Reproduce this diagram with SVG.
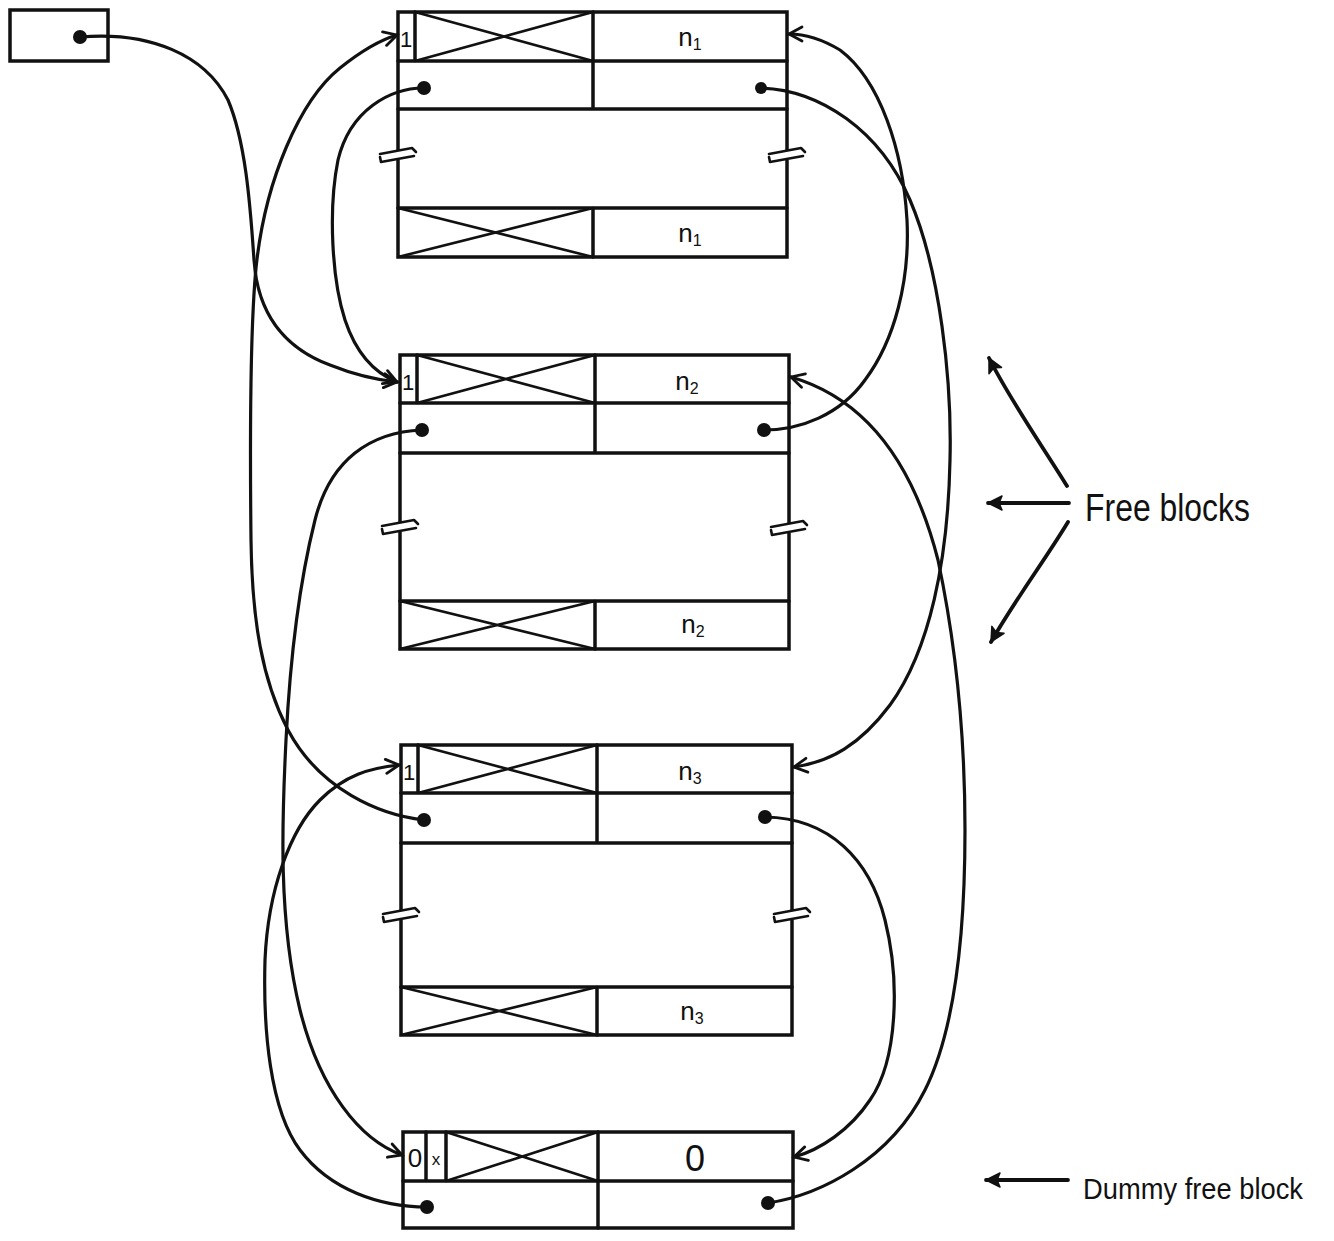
<svg xmlns="http://www.w3.org/2000/svg" width="1334" height="1241" viewBox="0 0 1334 1241">
<style>
.bx{fill:#fff;stroke:#111;stroke-width:3.5}
.ln{fill:none;stroke:#111;stroke-width:3.5;stroke-linecap:round}
.thin{fill:none;stroke:#111;stroke-width:2.6;stroke-linecap:round}
.dot{fill:#111}
.cn{fill:none;stroke:#111;stroke-width:3.2;stroke-linecap:round}
.ann{fill:none;stroke:#111;stroke-width:3.8;stroke-linecap:round}
.t{font-family:"Liberation Sans",Arial,sans-serif;fill:#111}
.brk path{fill:none;stroke:#111;stroke-width:2.6;stroke-linecap:round;stroke-linejoin:round}
</style>
<defs>
<marker id="open" markerUnits="userSpaceOnUse" markerWidth="20" markerHeight="20" refX="14" refY="7" orient="auto" overflow="visible">
<path d="M1,0 L14,7 L1,14" fill="none" stroke="#111" stroke-width="2.8" stroke-linecap="round"/>
</marker>
<marker id="fill" markerUnits="userSpaceOnUse" markerWidth="20" markerHeight="20" refX="14" refY="7" orient="auto" overflow="visible">
<path d="M0,0 L14,7 L0,14 L3,7 Z" fill="#111" stroke="#111" stroke-width="1.5" stroke-linejoin="round"/>
</marker>
<g id="brkmark" class="brk">
<rect x="-3" y="-5" width="6" height="10" fill="#fff" stroke="none"/>
<path d="M-18,-1 L14,-7 L18,-3"/>
<path d="M-18,2 L-17,7 L16,1"/>
</g>
</defs>
<rect x="0" y="0" width="1334" height="1241" fill="#fff"/>

<g id="head">
<rect class="bx" x="10" y="10" width="98" height="51"/>
<circle class="dot" cx="80" cy="37" r="7"/>
</g>

<g id="block1">
<rect class="bx" x="398" y="12" width="389" height="245"/>
<path class="ln" d="M398,61 H787 M398,109 H787 M398,208 H787 M593,12 V109 M593,208 V257 M415,12 V61"/>
<path class="thin" d="M415,12 L593,61 M415,61 L593,12 M398,208 L593,257 M398,257 L593,208"/>
<text class="t" x="406" y="47" font-size="22" text-anchor="middle">1</text>
<text class="t" x="690" y="46" font-size="26" text-anchor="middle">n<tspan font-size="16" dy="4">1</tspan></text>
<text class="t" x="690" y="242" font-size="26" text-anchor="middle">n<tspan font-size="16" dy="4">1</tspan></text>
<circle class="dot" cx="424" cy="88" r="7"/>
<circle class="dot" cx="761" cy="88" r="6"/>
<use href="#brkmark" x="398" y="155"/>
<use href="#brkmark" x="787" y="155"/>
</g>

<g id="block2">
<rect class="bx" x="400" y="355" width="389" height="294"/>
<path class="ln" d="M400,403 H789 M400,453 H789 M400,601 H789 M595,355 V453 M595,601 V649 M417,355 V403"/>
<path class="thin" d="M417,355 L595,403 M417,403 L595,355 M400,601 L595,649 M400,649 L595,601"/>
<text class="t" x="408" y="390" font-size="22" text-anchor="middle">1</text>
<text class="t" x="687" y="390" font-size="26" text-anchor="middle">n<tspan font-size="16" dy="4">2</tspan></text>
<text class="t" x="693" y="633" font-size="26" text-anchor="middle">n<tspan font-size="16" dy="4">2</tspan></text>
<circle class="dot" cx="422" cy="430" r="7"/>
<circle class="dot" cx="764" cy="430" r="7"/>
<use href="#brkmark" x="400" y="527"/>
<use href="#brkmark" x="789" y="528"/>
</g>

<g id="block3">
<rect class="bx" x="401" y="745" width="391" height="290"/>
<path class="ln" d="M401,793 H792 M401,843 H792 M401,987 H792 M597,745 V843 M597,987 V1035 M418,745 V793"/>
<path class="thin" d="M418,745 L597,793 M418,793 L597,745 M401,987 L597,1035 M401,1035 L597,987"/>
<text class="t" x="409" y="780" font-size="22" text-anchor="middle">1</text>
<text class="t" x="690" y="780" font-size="26" text-anchor="middle">n<tspan font-size="16" dy="4">3</tspan></text>
<text class="t" x="692" y="1020" font-size="26" text-anchor="middle">n<tspan font-size="16" dy="4">3</tspan></text>
<circle class="dot" cx="424" cy="820" r="7"/>
<circle class="dot" cx="765" cy="817" r="7"/>
<use href="#brkmark" x="401" y="915"/>
<use href="#brkmark" x="792" y="915"/>
</g>

<g id="dummy">
<rect class="bx" x="403" y="1132" width="390" height="96"/>
<path class="ln" d="M403,1181 H793 M598,1132 V1228 M426,1132 V1181 M446,1132 V1181"/>
<path class="thin" d="M446,1132 L598,1181 M446,1181 L598,1132"/>
<text class="t" x="415" y="1167" font-size="26" text-anchor="middle">0</text>
<text class="t" x="436" y="1165" font-size="17" text-anchor="middle">x</text>
<text class="t" x="695" y="1171" font-size="36" text-anchor="middle">0</text>
<circle class="dot" cx="427" cy="1207" r="7"/>
<circle class="dot" cx="768" cy="1203" r="7"/>
</g>

<g id="connectors">
<path class="cn" stroke-width="4.2" marker-end="url(#open)" d="M80,37 C150,31 205,55 228,100 C245,140 250,200 254,260 C258,320 290,350 330,365 C355,375 378,380 397,382"/>
<path class="cn" marker-end="url(#open)" d="M424,88 C390,88 350,110 338,160 C328,210 332,280 345,320 C355,350 372,372 397,382"/>
<path class="cn" marker-end="url(#open)" d="M424,820 C380,815 320,790 288,730 C262,680 252,620 251,540 C250,450 250,330 256,268 C265,180 300,100 340,68 C360,52 380,40 397,35"/>
<path class="cn" marker-end="url(#open)" d="M422,430 C370,432 330,460 315,520 C300,580 290,660 286,740 C282,820 278,920 300,1010 C320,1090 360,1140 402,1155"/>
<path class="cn" marker-end="url(#open)" d="M427,1207 C380,1207 330,1190 300,1150 C270,1110 263,1030 265,960 C268,890 290,830 320,800 C345,775 370,768 399,765"/>
<path class="cn" marker-end="url(#open)" d="M764,430 C800,430 840,415 865,380 C895,340 910,280 907,220 C903,150 880,80 840,50 C820,38 805,34 789,34"/>
<path class="cn" marker-end="url(#open)" d="M761,88 C820,90 880,130 910,200 C940,270 952,380 950,460 C948,560 930,650 890,705 C860,745 830,762 794,767"/>
<path class="cn" marker-end="url(#open)" d="M768,1203 C820,1195 890,1160 925,1090 C955,1030 965,930 965,830 C965,730 955,640 938,560 C915,470 870,400 791,377"/>
<path class="cn" marker-end="url(#open)" d="M765,817 C830,818 870,860 885,920 C900,980 898,1060 870,1100 C850,1130 820,1150 794,1157"/>
</g>

<g id="free-blocks-label">
<path class="ann" marker-end="url(#fill)" d="M1067,486 C1045,450 1010,400 989,358"/>
<path class="ann" marker-end="url(#fill)" d="M1069,503 H988"/>
<path class="ann" marker-end="url(#fill)" d="M1068,522 C1045,560 1015,600 991,642"/>
<text class="t" x="1085" y="521" font-size="38" textLength="165" lengthAdjust="spacingAndGlyphs">Free blocks</text>
</g>

<g id="dummy-label">
<path class="ann" marker-end="url(#fill)" d="M1068,1180 H986"/>
<text class="t" x="1083" y="1199" font-size="30" textLength="220" lengthAdjust="spacingAndGlyphs">Dummy free block</text>
</g>
</svg>
